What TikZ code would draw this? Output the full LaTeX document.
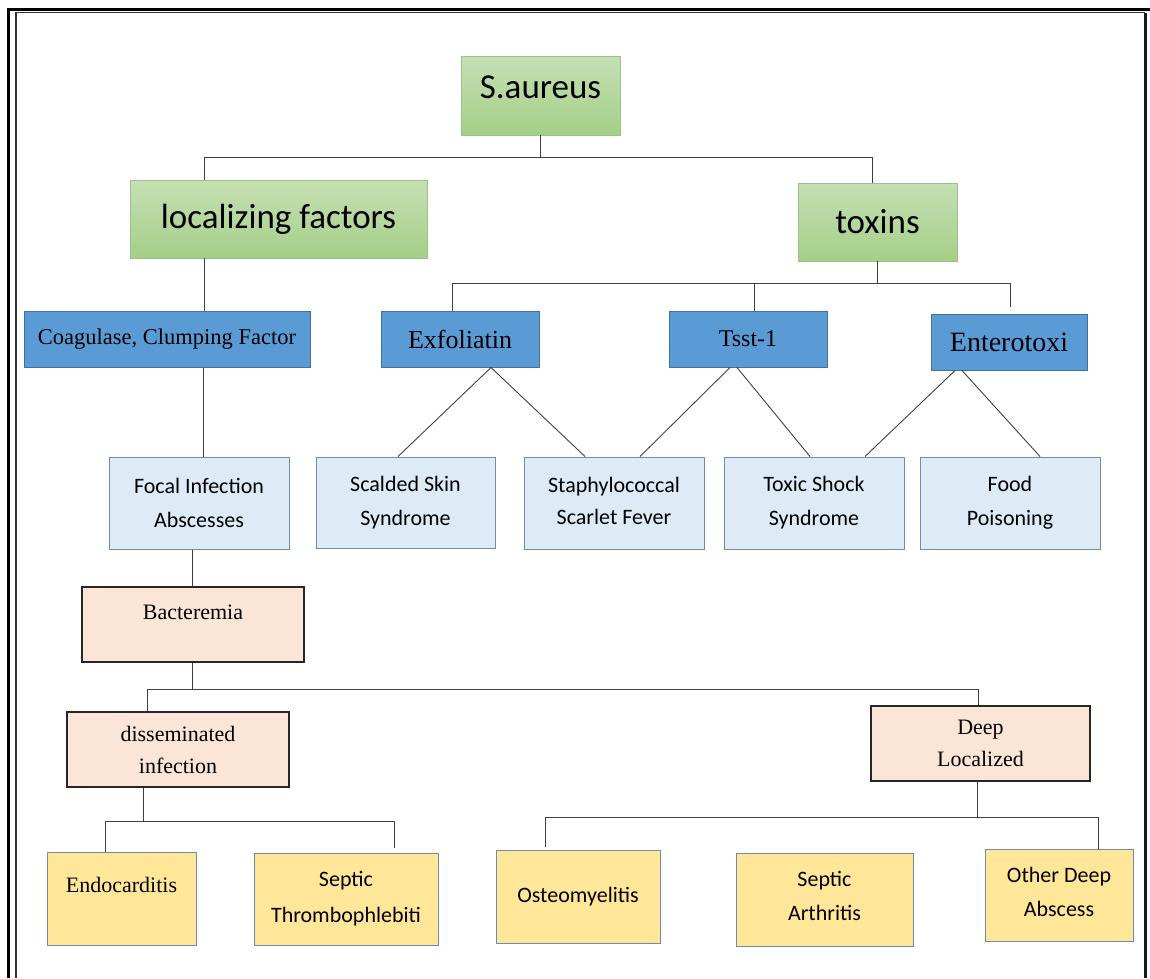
\documentclass[tikz,border=0pt]{standalone}
\usepackage{fontspec}
\setmainfont{Liberation Serif}
\newfontfamily\calfont{Carlito}
\definecolor{gtop}{HTML}{C5E0B4}
\definecolor{gbot}{HTML}{A4CF88}
\definecolor{gline}{HTML}{9CC488}
\definecolor{bmid}{HTML}{5B9BD5}
\definecolor{bline}{HTML}{41719C}
\definecolor{blight}{HTML}{DEEBF7}
\definecolor{bgrey}{HTML}{6E8CAC}
\definecolor{peach}{HTML}{FBE5D6}
\definecolor{ylw}{HTML}{FFE699}
\definecolor{conn}{HTML}{404040}
\tikzset{
  box/.style={rectangle, inner sep=2pt, align=center, text=black},
  greenbox/.style={box, top color=gtop, bottom color=gbot, draw=gline, line width=0.8pt, font=\calfont\fontsize{35}{40}\selectfont},
  bluebox/.style={box, fill=bmid, draw=bline, line width=1pt, font=\fontsize{24}{28}\selectfont},
  lightbox/.style={box, fill=blight, draw=bgrey, line width=1pt, font=\calfont\fontsize{22}{34}\selectfont},
  peachbox/.style={box, fill=peach, draw=black!85, line width=1.5pt, font=\fontsize{22}{32}\selectfont},
  yellowbox/.style={box, fill=ylw, draw=bgrey, line width=1pt, font=\calfont\fontsize{22}{36}\selectfont},
  link/.style={draw=conn, line width=0.9pt},
  sz/.style 2 args={minimum width=#1pt, minimum height=#2pt}
}
\begin{document}
\begin{tikzpicture}[x=1pt,y=-1pt]
\useasboundingbox (0,0) rectangle (1150,978);
% frame
\draw[line width=3pt, black] (8,978) -- (8,9) -- (1150,9);
\draw[line width=1.2pt, black!80] (16,978) -- (16,12.5) -- (1145,12.5);
\draw[line width=2.2pt, black!90] (1145.5,12.5) -- (1145.5,978);

% level 1-2
\node[greenbox, sz={159}{79}] (sa) at (540.5,95.5) {S.aureus\\[-36pt]\strut};
\node[greenbox, sz={297}{78}] (loc) at (278.5,219) {localizing factors};
\node[greenbox, sz={159}{78}] (tox) at (877.5,222) {toxins};

% level 3
\node[bluebox, sz={286}{56}, font=\fontsize{22.5}{28}\selectfont] (coag) at (167,339) {Coagulase, Clumping Factor};
\node[bluebox, sz={158}{56}, font=\fontsize{26}{28}\selectfont] (exf) at (460,339) {Exfoliatin};
\node[bluebox, sz={158}{56}] (tsst) at (748,339) {Tsst-1};
\node[bluebox, sz={156}{56}, font=\fontsize{28}{32}\selectfont] (ent) at (1009,342) {Enterotoxi};

% level 4
\node[lightbox, sz={180}{92}] (focal) at (199,503) {Focal Infection\\Abscesses};
\node[lightbox, sz={179}{91}] (ssss) at (405.5,502.5) {Scalded Skin\\Syndrome};
\node[lightbox, sz={180}{92}] (ssf) at (614,503) {Staphylococcal\\[-2pt]Scarlet Fever\\[-40pt]\strut};
\node[lightbox, sz={180}{92}] (tss) at (814,503) {Toxic Shock\\Syndrome};
\node[lightbox, sz={180}{92}] (food) at (1010,503) {Food\\Poisoning};

% level 5-6
\node[peachbox, sz={222}{75}] (bact) at (193,624.5) {Bacteremia\\[-18pt]\strut};
\node[peachbox, sz={222}{75}] (diss) at (178,749.5) {disseminated\\infection};
\node[peachbox, sz={219}{75}] (deep) at (980.5,743.5) {Deep\\Localized};

% level 7
\node[yellowbox, sz={149}{93}, font=\fontsize{22}{30}\selectfont] (endo) at (121.5,898.5) {Endocarditis\\[-12pt]\strut};
\node[yellowbox, sz={184}{92}] (stp) at (346,899) {Septic\\Thrombophlebiti};
\node[yellowbox, sz={164}{93}] (osteo) at (578,896.5) {Osteomyelitis};
\node[yellowbox, sz={177}{93}] (sart) at (824.5,899.5) {Septic\\[-2pt]Arthritis\\[-40pt]\strut};
\node[yellowbox, sz={148}{92}] (odab) at (1059,895) {Other Deep\\[-2pt]Abscess\\[-40pt]\strut};

% connectors top
\draw[link] (sa.south) -- ++(0,22) coordinate (j1);
\draw[link] ([xshift=-74.5pt]loc.north) |- (j1) -| ([xshift=-5.5pt]tox.north);
\draw[link] ([xshift=-74.5pt]loc.south) -- ([xshift=-74.5pt]loc.south |- coag.north);
\draw[link] (tox.south) -- ++(0,22) coordinate (j2);
\draw[link] ([xshift=-8pt]exf.north) |- (j2) -| ([xshift=1pt,yshift=7pt]ent.north);
\draw[link] ([xshift=6pt]tsst.north) -- ([xshift=6pt]tsst.north |- j2);

% diagonals
\draw[link] ([xshift=31pt]exf.south) -- ([xshift=-7.5pt]ssss.north);
\draw[link] ([xshift=31pt]exf.south) -- ([xshift=-29pt]ssf.north);
\draw[link] ([xshift=-18pt]tsst.south) -- ([xshift=26pt]ssf.north);
\draw[link] ([xshift=-11pt]tsst.south) -- ([xshift=-4pt]tss.north);
\draw[link] ([xshift=-54pt]ent.south) -- ([xshift=51pt]tss.north);
\draw[link] ([xshift=-47pt]ent.south) -- ([xshift=30pt]food.north);

% left chain
\draw[link] ([xshift=4pt]focal.north) -- ([xshift=4pt]focal.north |- coag.south);
\draw[link] ([xshift=-7pt]focal.south) -- ([xshift=-7pt]focal.south |- bact.north);
\draw[link] ([xshift=-1pt]bact.south) -- ++(0,26.5) coordinate (j3);
\draw[link] ([xshift=-31pt]diss.north) |- (j3) -| ([xshift=-2.5pt]deep.north);
\draw[link] ([xshift=-35pt]diss.south) -- ++(0,33.5) coordinate (j4);
\draw[link] ([xshift=-16.5pt]endo.north) |- (j4) -| ([xshift=48pt,yshift=5pt]stp.north);
\draw[link] ([xshift=-3.5pt]deep.south) -- ++(0,36) coordinate (j5);
\draw[link] ([xshift=-33pt,yshift=3pt]osteo.north) |- (j5) -| ([xshift=39pt]odab.north);
\end{tikzpicture}
\end{document}
